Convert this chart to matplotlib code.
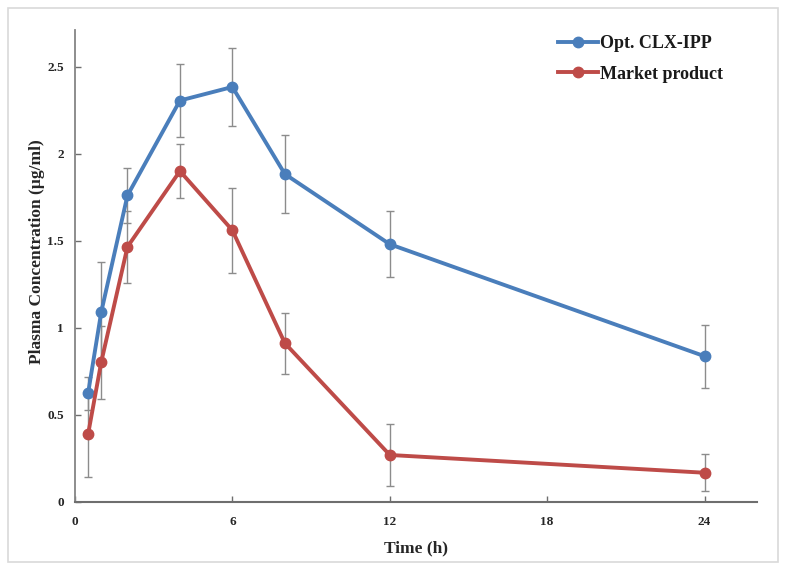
import matplotlib
matplotlib.use("Agg")
import matplotlib.pyplot as plt
from matplotlib.patches import Rectangle

# Data
time_h = [0.5, 1, 2, 4, 6, 8, 12, 24]
opt_clx_ipp = [0.625, 1.09, 1.76, 2.305, 2.383, 1.883, 1.48, 0.837]
opt_clx_ipp_err = [0.095, 0.29, 0.16, 0.21, 0.225, 0.225, 0.19, 0.18]
market_product = [0.39, 0.803, 1.465, 1.90, 1.56, 0.912, 0.27, 0.168]
market_product_err = [0.245, 0.21, 0.207, 0.155, 0.245, 0.175, 0.176, 0.107]
x_ticks = [0, 6, 12, 18, 24]
y_ticks = [0, 0.5, 1, 1.5, 2, 2.5]
y_tick_labels = ["0", "0.5", "1", "1.5", "2", "2.5"]

BLUE = "#4a7ebb"
RED = "#be4b48"
SERIF = ["Liberation Serif", "DejaVu Serif"]

fig = plt.figure(figsize=(7.86, 5.76), dpi=100)
ax = fig.add_axes([75/786, 1 - 502/576, (757 - 75)/786, (502 - 30)/576])

# outer frame
fig.patches.append(Rectangle((8/786, 1 - 562/576), (778 - 8)/786, (562 - 8)/576,
                             transform=fig.transFigure, fill=False,
                             edgecolor="#d9d9d9", linewidth=1.2, zorder=0))

for y, e, c, lab in [(opt_clx_ipp, opt_clx_ipp_err, BLUE, "Opt. CLX-IPP"),
                     (market_product, market_product_err, RED, "Market product")]:
    ax.errorbar(time_h, y, yerr=e, fmt="none", ecolor="#8c8c8c", elinewidth=1.0,
                capsize=3, capthick=1.0, zorder=2)
    ax.plot(time_h, y, color=c, linewidth=2.8, marker="o", markersize=7.5,
            label=lab, zorder=3)

ax.set_xlim(0, 26)
ax.set_ylim(0, 2.71)
ax.set_xticks(x_ticks)
ax.set_xticklabels([str(t) for t in x_ticks])
ax.set_yticks(y_ticks)
ax.set_yticklabels(y_tick_labels)

for s in ["top", "right"]:
    ax.spines[s].set_visible(False)
ax.spines["left"].set_color("#858585")
ax.spines["bottom"].set_color("#6e6e6e")
ax.spines["left"].set_linewidth(1.3)
ax.spines["bottom"].set_linewidth(1.5)
ax.tick_params(direction="in", length=4, width=1, color="#6e6e6e")
ax.tick_params(axis="x", pad=10)
ax.tick_params(axis="y", pad=8)
for lbl in ax.get_xticklabels() + ax.get_yticklabels():
    lbl.set_fontfamily(SERIF)
    lbl.set_fontweight("bold")
    lbl.set_fontsize(9.5)
    lbl.set_color("#262626")

ax.set_xlabel("Time (h)", fontfamily=SERIF, fontweight="bold", fontsize=12.5,
              color="#262626")
ax.set_ylabel("Plasma Concentration (µg/ml)", fontfamily=SERIF, fontweight="bold",
              fontsize=12.5, color="#262626")
ax.xaxis.set_label_coords(0.5, -(548 - 502) / 472, transform=ax.transAxes)
ax.xaxis.label.set_verticalalignment("center")
ax.yaxis.set_label_coords((37 - 75) / 682, (502 - 252) / 472, transform=ax.transAxes)
ax.yaxis.label.set_verticalalignment("center")

leg = ax.legend(loc="upper left", bbox_to_anchor=(551/786, 1 - 28/576),
                bbox_transform=fig.transFigure, frameon=False,
                prop={"family": SERIF, "weight": "bold", "size": 13},
                handlelength=2.2, handletextpad=0.1, labelspacing=0.75,
                borderaxespad=0)
for t in leg.get_texts():
    t.set_color("#1a1a1a")

fig.savefig("out.png", dpi=100)
